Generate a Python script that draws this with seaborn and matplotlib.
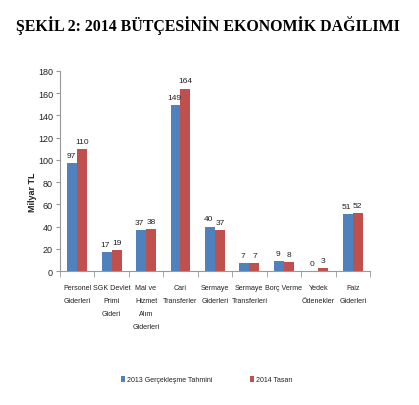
import numpy as np
import pandas as pd
import seaborn as sns
import matplotlib
matplotlib.use("Agg")
import matplotlib.pyplot as plt
from matplotlib.patches import Patch

categories = ["Personel\nGiderleri", "SGK Devlet\nPrimi\nGideri", "Mal ve\nHizmet\nAlım\nGiderleri",
              "Cari\nTransferler", "Sermaye\nGiderleri", "Sermaye\nTransferleri", "Borç Verme",
              "Yedek\nÖdenekler", "Faiz\nGiderleri"]
series_names = ["2013 Gerçekleşme Tahmini", "2014 Tasarı"]
values_2013 = [97, 17, 37, 149, 40, 7, 9, 0, 51]
values_2014 = [110, 19, 38, 164, 37, 7, 8, 3, 52]
y_ticks = [0, 20, 40, 60, 80, 100, 120, 140, 160, 180]
title = "ŞEKİL 2: 2014 BÜTÇESİNİN EKONOMİK DAĞILIMI"
ylabel = "Milyar TL"

df = pd.DataFrame({
    "cat": categories * 2,
    "series": [series_names[0]] * len(categories) + [series_names[1]] * len(categories),
    "value": values_2013 + values_2014,
})

sns.set_style("white")
narrow = ["Liberation Sans Narrow", "Liberation Sans", "DejaVu Sans"]
colors = ["#4F81BD", "#C0504D"]
txt = "#222222"

fig = plt.figure(figsize=(4.19, 4.06), dpi=100)
ax = fig.add_axes([0.143, 0.330, 0.740, 0.493])
sns.barplot(data=df, x="cat", y="value", hue="series", palette=colors, width=0.58,
            ax=ax, legend=False, saturation=1, linewidth=0)

for i, cont in enumerate(ax.containers):
    labels = ax.bar_label(cont, padding=3, fontsize=6.0, family=narrow, color=txt)
    if i == 0:
        for lab in labels:
            lab.xyann = (-1.0, lab.xyann[1])

ax.set_ylim(0, 180)
ax.set_xlim(-0.5, len(categories) - 0.5)
ax.set_yticks(y_ticks)
ax.set_yticklabels([str(t) for t in y_ticks], fontsize=6.5, family=narrow, color=txt)
ax.set_xticks(range(len(categories)))
ax.set_xticklabels(categories, fontsize=5.1, family=narrow, linespacing=2.25, color=txt)
ax.tick_params(axis="x", length=0, pad=9)
ax.set_xticks(np.arange(-0.5, len(categories), 1), minor=True)
ax.tick_params(axis="x", which="minor", length=4, color="#999999", direction="out", bottom=True)
ax.tick_params(axis="y", length=3, color="#999999", direction="out", left=True, pad=2)
ax.set_xlabel("")
ax.set_ylabel(ylabel, fontsize=6.5, fontweight="bold", color=txt,
              family=["Liberation Sans", "DejaVu Sans"])
ax.yaxis.set_label_coords(-0.074, 0.40)
for s in ["top", "right"]:
    ax.spines[s].set_visible(False)
for s in ["left", "bottom"]:
    ax.spines[s].set_color("#999999")
    ax.spines[s].set_linewidth(0.8)

fig.text(0.497, 0.937, title, ha="center", va="center", fontsize=11.4, fontweight="bold",
         family=["Liberation Serif", "DejaVu Serif"], color="black")

handles = [Patch(facecolor=c, edgecolor="none") for c in colors]
fig.legend(handles, series_names, loc="center", bbox_to_anchor=(0.494, 0.062), ncol=2,
           frameon=False, prop={"family": narrow, "size": 5.0}, handlelength=0.6,
           handleheight=0.8, handletextpad=0.3, columnspacing=5.3, labelcolor=txt)

fig.savefig("out.png", dpi=100)
